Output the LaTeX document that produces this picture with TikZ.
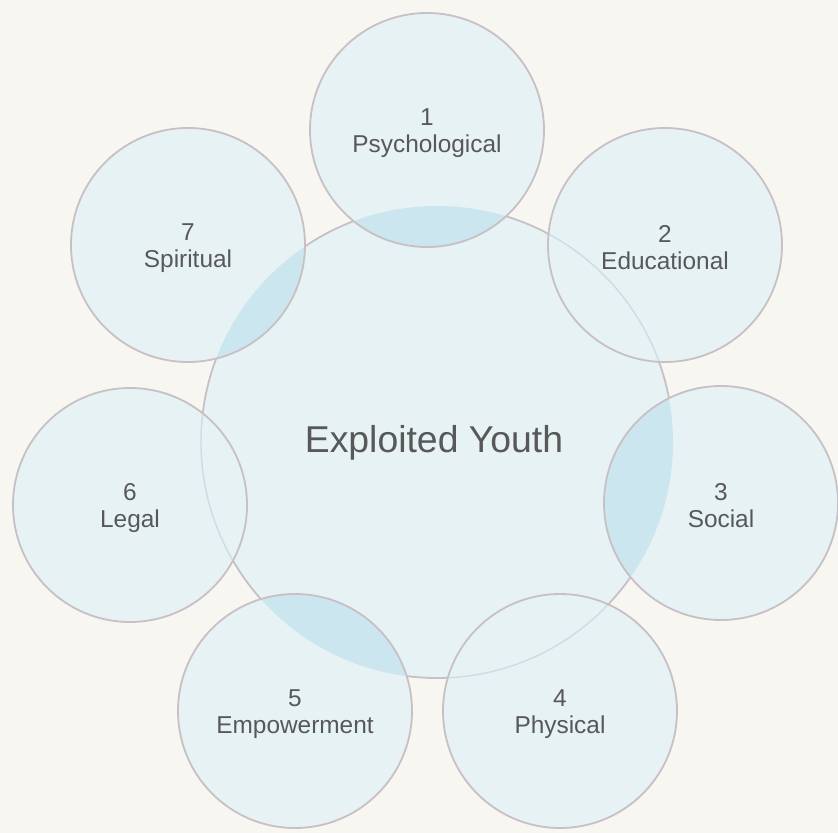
\documentclass[tikz,border=0pt]{standalone}
\usepackage{fontspec}
\setmainfont{Liberation Sans}
\definecolor{paper}{HTML}{F7F6F1}
\definecolor{diskfill}{HTML}{E6F2F4}
\definecolor{lensfill}{HTML}{CCE6EF}
\definecolor{rimgray}{HTML}{C8C0C5}
\definecolor{rimfaint}{HTML}{CCDEE2}
\definecolor{inkgray}{HTML}{585858}
\begin{document}
\begin{tikzpicture}[x=1bp,y=-1bp,
  disk/.style={fill=diskfill},
  lens/.style={fill=lensfill},
  rim/.style={draw=rimgray, line width=1.8bp},
  faintrim/.style={draw=rimfaint, line width=1.4bp},
  tag/.style={text=inkgray, align=center, inner sep=0pt,
    font=\fontsize{24.5}{27}\selectfont},
  hubtag/.style={text=inkgray, inner sep=0pt, anchor=base,
    font=\fontsize{37.5}{44}\selectfont}]
\useasboundingbox (0,0) rectangle (838,833);
\fill[paper] (0,0) rectangle (838,833);

% centre of the hub and of the seven satellite circles
\coordinate (hub) at (437,442);
\coordinate (p1) at (427,130);
\coordinate (p2) at (665,245);
\coordinate (p3) at (721,503);
\coordinate (p4) at (560,711);
\coordinate (p5) at (295,711);
\coordinate (p6) at (130,505);
\coordinate (p7) at (188,245);

% hub circle
\fill[disk] (hub) circle[radius=236];
\draw[rim] (hub) circle[radius=236];

% satellite fills
\foreach \i in {1,...,7} \fill[disk] (p\i) circle[radius=117];

% darker overlap lenses
\begin{scope}
  \clip (hub) circle[radius=236];
  \foreach \i in {1,3,5,7} \fill[lens] (p\i) circle[radius=117];
\end{scope}

% hub rim showing faintly through the other satellites
\begin{scope}
  \clip (p2) circle[radius=117] (p4) circle[radius=117] (p6) circle[radius=117];
  \draw[faintrim] (hub) circle[radius=236];
\end{scope}

% satellite rims
\foreach \i in {1,...,7} \draw[rim] (p\i) circle[radius=117];

% labels
\node[hubtag] (hubtext) at (434,452) {Exploited Youth};
\node[tag] (t1) at ([yshift=-3]p1) {1\\Psychological};
\node[tag] (t2) at ([yshift=-3]p2) {2\\Educational};
\node[tag] (t3) at ([yshift=-3]p3) {3\\Social};
\node[tag] (t4) at ([yshift=-3]p4) {4\\Physical};
\node[tag] (t5) at ([yshift=-3]p5) {5\\Empowerment};
\node[tag] (t6) at ([yshift=-3]p6) {6\\Legal};
\node[tag] (t7) at ([yshift=-3]p7) {7\\Spiritual};
\end{tikzpicture}
\end{document}
